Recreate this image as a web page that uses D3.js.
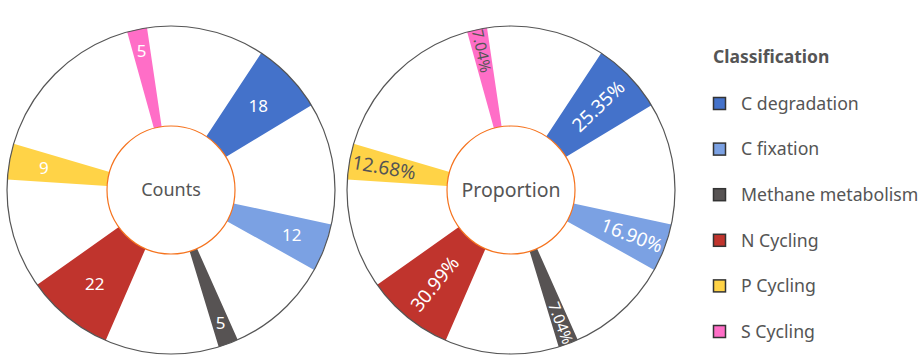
<!DOCTYPE html>
<html lang="en">
<head>
  <meta charset="UTF-8">
  <title>Classification counts and proportion</title>
  <script src="https://d3js.org/d3.v7.min.js"></script>
  <style>
    body { margin: 0; background: #fff; font-family: "Noto Sans", sans-serif; }
    .legend-title { font-size: 17.5px; font-weight: bold; fill: #555; }
    .legend-label { font-size: 17.7px; fill: #555; }
    .center-label { fill: #555; }
  </style>
</head>
<body>
  <svg width="923" height="364"></svg>

  <script>
    // data
    const categories = ["C degradation", "C fixation", "Methane metabolism", "N Cycling", "P Cycling", "S Cycling"];
    const counts = [18, 12, 5, 22, 9, 5];
    const percentLabels = ["25.35%", "16.90%", "7.04%", "30.99%", "12.68%", "7.04%"];
    // blank space after each wedge, in count units
    const gaps = [30.5, 26, 28.5, 27.5, 41, 29.5];
    const colors = ["#4472ca", "#7ba1e3", "#575353", "#c0342d", "#ffd347", "#ff6ec7"];

    const svg = d3.select("svg");
    const innerR = 64, outerR = 164;
    const startDeg = 33.4;

    const color = d3.scaleOrdinal().domain(categories).range(colors);

    // interleave wedges with blank slices
    const slices = [];
    categories.forEach((c, i) => {
      slices.push({ cat: c, i: i, v: counts[i] });
      slices.push({ cat: null, v: gaps[i] });
    });

    const pie = d3.pie()
      .sort(null)
      .value(d => d.v)
      .startAngle(startDeg * Math.PI / 180)
      .endAngle(startDeg * Math.PI / 180 + 2 * Math.PI);

    const arc = d3.arc().innerRadius(innerR).outerRadius(outerR);

    const spanDeg = a => (a.endAngle - a.startAngle) * 180 / Math.PI;

    function labelRadius(a) {
      const deg = spanDeg(a);
      if (deg >= 20) return 121;
      if (deg >= 10) return 129;
      return 142;
    }

    function drawDonut(cx, title, titleSize, labelFn, rotated) {
      const g = svg.append("g").attr("transform", `translate(${cx},190)`);
      const arcs = pie(slices).filter(d => d.data.cat !== null);

      g.selectAll("path")
        .data(arcs)
        .enter()
        .append("path")
        .attr("d", arc)
        .attr("fill", d => color(d.data.cat));

      g.append("circle")
        .attr("r", outerR)
        .attr("fill", "none")
        .attr("stroke", "#555")
        .attr("stroke-width", 1.2);

      g.append("circle")
        .attr("r", innerR)
        .attr("fill", "#fff")
        .attr("stroke", "#f5731e")
        .attr("stroke-width", 1.2);

      g.append("text")
        .attr("class", "center-label")
        .attr("text-anchor", "middle")
        .attr("dy", "0.35em")
        .style("font-size", titleSize + "px")
        .text(title);

      g.selectAll("text.val")
        .data(arcs)
        .enter()
        .append("text")
        .attr("class", "val")
        .attr("text-anchor", "middle")
        .attr("dy", "0.35em")
        .style("font-size", d => !rotated ? "17px" : (spanDeg(d) < 10 ? "15.5px" : "19px"))
        .attr("fill", d => (rotated && (d.data.i === 4 || d.data.i === 5)) ? "#555" : "#fff")
        .attr("transform", d => {
          const mid = (d.startAngle + d.endAngle) / 2;
          const r = labelRadius(d);
          const x = Math.sin(mid) * r, y = -Math.cos(mid) * r;
          if (!rotated) return `translate(${x},${y})`;
          let rot = mid * 180 / Math.PI - 90;
          if (rot > 90) rot -= 180;
          return `translate(${x},${y}) rotate(${rot})`;
        })
        .text(d => labelFn(d.data.i));
    }

    drawDonut(171, "Counts", 18, i => counts[i], false);
    drawDonut(511, "Proportion", 19.5, i => percentLabels[i], true);

    // legend
    const legend = svg.append("g").attr("transform", "translate(713,0)");
    legend.append("text")
      .attr("class", "legend-title")
      .attr("x", 0)
      .attr("y", 63)
      .text("Classification");

    const item = legend.selectAll("g.item")
      .data(categories)
      .enter()
      .append("g")
      .attr("class", "item")
      .attr("transform", (d, i) => `translate(0,${103.5 + i * 45.6})`);

    item.append("rect")
      .attr("x", 0.5)
      .attr("y", -6)
      .attr("width", 12)
      .attr("height", 12)
      .attr("fill", d => color(d))
      .attr("stroke", "#333")
      .attr("stroke-width", 1.5);

    item.append("text")
      .attr("class", "legend-label")
      .attr("x", 28)
      .attr("dy", "0.35em")
      .text(d => d);
  </script>
</body>
</html>
